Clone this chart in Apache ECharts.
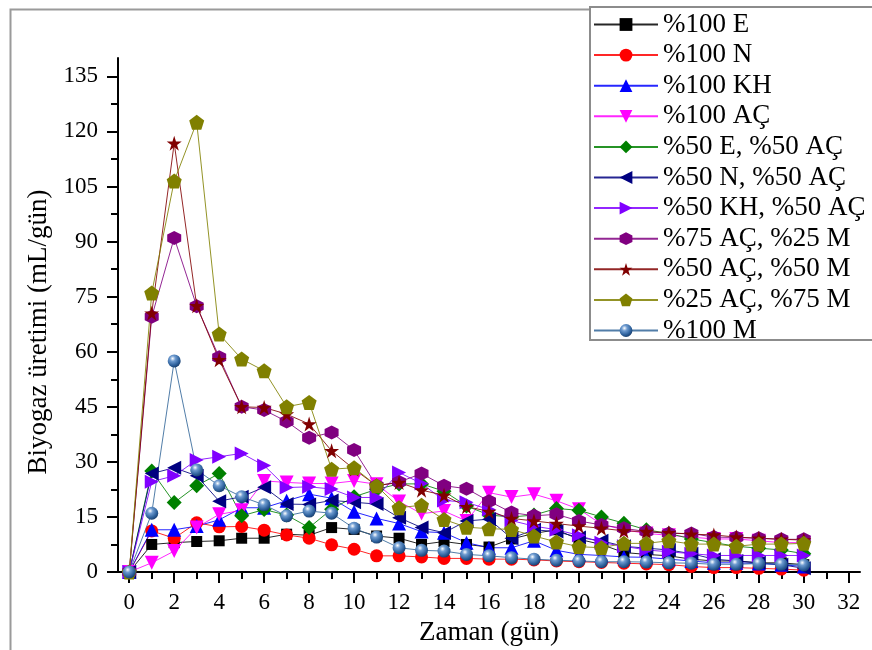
<!DOCTYPE html>
<html>
<head>
<meta charset="utf-8">
<script src="https://cdn.jsdelivr.net/npm/echarts@6/dist/echarts.min.js"></script>
<style>html,body{margin:0;padding:0;background:#fff}#c{width:872px;height:650px}</style>
</head>
<body>
<div id="c"></div>
<script>
// ---- data ----
const days = [0,1,2,3,4,5,6,7,8,9,10,11,12,13,14,15,16,17,18,19,20,21,22,23,24,25,26,27,28,29,30];
const seriesNames = ['%100 E','%100 N','%100 KH','%100 AÇ','%50 E, %50 AÇ','%50 N, %50 AÇ','%50 KH, %50 AÇ','%75 AÇ, %25 M','%50 AÇ, %50 M','%25 AÇ, %75 M','%100 M'];
const e100     = [0,7.5,8,8.3,8.5,9.2,9.2,10.3,10,12.1,11.6,9.8,9.2,7.5,8.3,7.5,6.8,9,10.5,11.5,8.9,7.5,5.3,4.8,4.4,3.5,3,3,2.5,2.5,2];
const n100     = [0,11.2,9.2,13.4,12.3,12.4,11.4,10.1,9.2,7.4,6.2,4.4,4.4,4.1,3.7,3.7,3.5,3.5,3.3,3,2.8,2.6,2.4,2.2,2,1.5,1.2,1.2,1,0.8,0.5];
const kh100    = [0,11.5,11.5,12.5,14.2,17.5,17.5,19.4,21.2,20.1,16.4,14.6,13.2,11,10.7,8,6.6,6.6,8.5,5.9,4.8,4.5,4.1,4,3.5,3,2.5,2.5,2.3,2,1.5];
const ac100    = [0,2.5,5.7,12.1,15.7,16.8,24.8,24.4,24.1,24.1,24.8,23.9,19.2,15.9,16.6,13.9,21.6,20.4,21.2,19.4,17.1,13,11.5,10.5,10,9.5,9,9,8.5,8,8];
const e50ac50  = [0,27.5,18.9,23.5,26.8,15.3,17,15.5,12.1,17.1,20.5,22.5,24,24,22,18,15.5,15,15.5,17.3,16.8,15,13.3,11.5,10.5,9,8,7,6.5,6,5];
const n50ac50  = [0,26.8,28.4,26.2,19.3,20.5,23.1,18.5,18.4,19.5,19,18.5,14.8,12.1,10.7,13.9,14.4,9.2,11.5,11,9.4,8.5,7,6.5,6,5,3.5,3,2.5,2,1];
const kh50ac50 = [0,24.6,26.2,30.5,31.4,32.3,29,23,23.2,22.6,20.3,20.3,27.1,24.1,19.5,19,17,14,12.5,11.5,10,8,7,6,5.5,5,4.5,4.5,4.5,4.5,4.5];
const ac75m25  = [0,69.5,91,72.4,58.5,45,44.1,41,36.6,38,33.2,23.5,24.5,26.8,23.5,22.7,19.3,16.2,15.3,15.7,13.9,12.8,11.9,11,10.5,10.5,9.5,9.4,9.2,8.9,8.9];
const ac50m50  = [0,70.5,116.8,72.5,57.8,45,44.8,43,40.3,33,28,23.5,24.4,22.3,20.9,17.8,16.5,14.6,13.9,13.2,12.5,11.9,11.2,11,10.7,10.3,10.1,9.5,9.2,8.9,8.7];
const ac25m75  = [0,76,106.5,122.5,64.8,58,54.8,45,46.2,28,28.4,23.5,17.5,18.2,14.3,12.2,11.8,11.6,9.8,8.2,6.9,6.6,7.8,7.8,8.5,7.6,7.6,7,7.6,7.6,7.8];
const m100     = [0,16,57.5,27.8,23.5,20.5,18.3,15.3,16.6,16,11.9,9.5,6.6,5.9,5.7,4.8,4.4,3.9,3.5,3.2,3,2.8,2.8,2.7,2.5,2.4,2.1,2.1,2.3,2.1,1.9];
const xTickLabels = [0,2,4,6,8,10,12,14,16,18,20,22,24,26,28,30,32];
const xMinorTicks = [1,3,5,7,9,11,13,15,17,19,21,23,25,27,29,31];
const yTickLabels = [0,15,30,45,60,75,90,105,120,135];
const yMinorTicks = [7.5,22.5,37.5,52.5,67.5,82.5,97.5,112.5,127.5];

// ---- styles ----
const FONT = 'Liberation Serif';
const SYM = {
  down: 'path://M0,0L10,0L5,8.66Z',
  left: 'path://M8.66,0L8.66,10L0,5Z',
  right: 'path://M0,0L8.66,5L0,10Z',
  hex: 'path://M5,0L9.33,2.5L9.33,7.5L5,10L0.67,7.5L0.67,2.5Z',
  star: 'path://M50,0L61.17,34.63L97.55,34.55L68.07,55.87L79.39,90.45L50,69L20.61,90.45L31.93,55.87L2.45,34.55L38.83,34.63Z',
  pent: 'path://M50,0L97.55,34.55L79.39,90.45L20.61,90.45L2.45,34.55Z'
};
const sphere = {type:'radial', x:0.38, y:0.32, r:0.7, colorStops:[
  {offset:0, color:'#ffffff'},{offset:0.3, color:'#6e9bd0'},{offset:0.75, color:'#2c5f9a'},{offset:1, color:'#1a3f6e'}]};
const styles = [
  {color:'#000000', symbol:'rect', size:11},
  {color:'#ff0000', symbol:'circle', size:13},
  {color:'#0000ff', symbol:'triangle', size:14},
  {color:'#ff00ff', symbol:SYM.down, size:14},
  {color:'#008000', symbol:'diamond', size:15},
  {color:'#000080', symbol:SYM.left, size:14},
  {color:'#8000ff', symbol:SYM.right, size:14},
  {color:'#800080', symbol:SYM.hex, size:14},
  {color:'#800000', symbol:SYM.star, size:15},
  {color:'#808000', symbol:SYM.pent, size:15},
  {color:'#336699', symbol:'circle', size:13, fill:sphere}
];
const values = [e100,n100,kh100,ac100,e50ac50,n50ac50,kh50ac50,ac75m25,ac50m50,ac25m75,m100];

const series = values.map((vals, i) => ({
  name: seriesNames[i],
  type: 'line',
  xAxisIndex: 0, yAxisIndex: 0,
  data: days.map((d, k) => [d, vals[k]]),
  symbol: styles[i].symbol,
  symbolSize: styles[i].size,
  showAllSymbol: true,
  clip: false,
  lineStyle: {color: styles[i].color, width: 1, opacity: 0.85},
  itemStyle: {color: styles[i].fill || styles[i].color, borderWidth: 0, opacity: 1},
  emphasis: {disabled: true},
  animation: false
}));

const axisLineStyle = {color:'#000', width:2};
const chart = echarts.init(document.getElementById('c'), null, {renderer:'canvas'});
chart.setOption({
  backgroundColor: '#fff',
  animation: false,
  grid: {left:118, right:12, top:58, bottom:78, containLabel:false, outerBoundsMode:'none'},
  xAxis: [{
    type:'value', min:-0.5, max:32.5, position:'bottom',
    axisLine:{onZero:false, lineStyle:axisLineStyle},
    axisTick:{customValues:xTickLabels, length:11, lineStyle:{color:'#000', width:2}},
    axisLabel:{customValues:xTickLabels, margin:19, fontSize:23, fontFamily:FONT, color:'#000'},
    splitLine:{show:false},
    name:'Zaman (gün)', nameLocation:'middle', nameGap:47,
    nameTextStyle:{fontFamily:FONT, fontSize:27, color:'#000'}
  },{
    type:'value', min:-0.5, max:32.5, position:'bottom',
    axisLine:{show:false, onZero:false},
    axisTick:{customValues:xMinorTicks, length:7, lineStyle:{color:'#000', width:2}},
    axisLabel:{show:false}, splitLine:{show:false}
  }],
  yAxis: [{
    type:'value', min:0, max:140, position:'left',
    axisLine:{show:true, onZero:false, lineStyle:axisLineStyle},
    axisTick:{show:true, customValues:yTickLabels, length:11, lineStyle:{color:'#000', width:2}},
    axisLabel:{customValues:yTickLabels, margin:20, fontSize:23, fontFamily:FONT, color:'#000'},
    splitLine:{show:false},
    name:'Biyogaz üretimi (mL/gün)', nameLocation:'middle', nameGap:64,
    nameTextStyle:{fontFamily:FONT, fontSize:27, color:'#000', padding:[0,34,0,0]}
  },{
    type:'value', min:0, max:140, position:'left',
    axisLine:{show:false, onZero:false},
    axisTick:{show:true, customValues:yMinorTicks, length:7, lineStyle:{color:'#000', width:2}},
    axisLabel:{show:false}, splitLine:{show:false}
  }],
  legend: {
    data: seriesNames, orient:'vertical', left:590, top:7,
    itemWidth:64, itemHeight:16, itemGap:3.6,
    padding:[4,0,7,3],
    borderWidth:0, backgroundColor:'transparent',
    selectedMode:false, z:5,
    textStyle:{fontFamily:FONT, fontSize:27, color:'#000', lineHeight:26}
  },
  graphic: [{
    type:'rect', left:8, top:7, z:-100, silent:true,
    shape:{width:900, height:700},
    style:{fill:'none', stroke:'#9a9a9a', lineWidth:2}
  },{
    type:'rect', x:590, y:7, z:4, silent:true,
    shape:{width:400, height:333},
    style:{fill:'#fff', stroke:'#8c8c8c', lineWidth:2}
  }],
  series: series
});
</script>
</body>
</html>
